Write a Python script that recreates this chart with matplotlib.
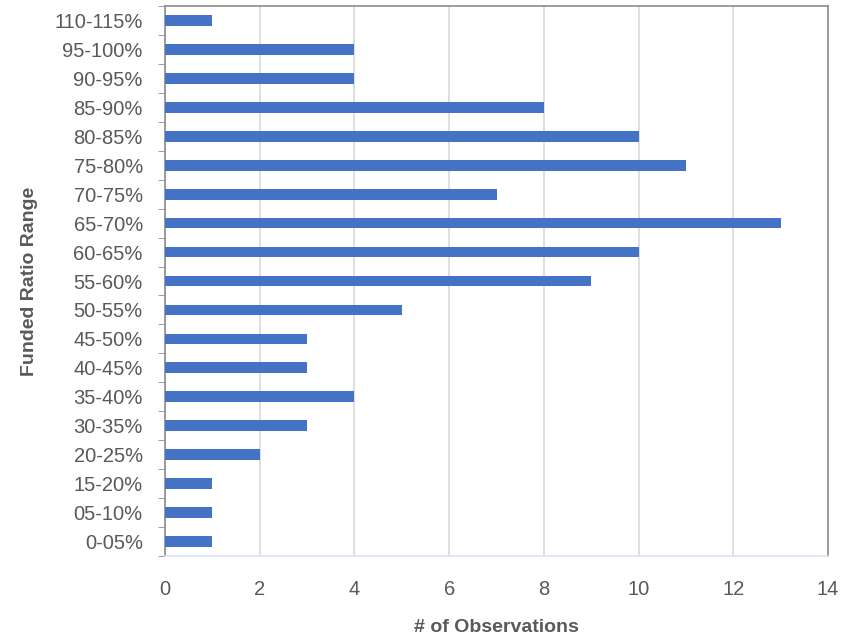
import numpy as np
import matplotlib.pyplot as plt

ranges = ['0-05%', '05-10%', '15-20%', '20-25%', '30-35%', '35-40%', '40-45%',
          '45-50%', '50-55%', '55-60%', '60-65%', '65-70%', '70-75%', '75-80%',
          '80-85%', '85-90%', '90-95%', '95-100%', '110-115%']
counts = [1, 1, 1, 2, 3, 4, 3, 3, 5, 9, 10, 13, 7, 11, 10, 8, 4, 4, 1]

txt = '#595959'
plt.rcParams['font.family'] = ['Liberation Sans', 'DejaVu Sans']

fig = plt.figure(figsize=(8.48, 6.39), dpi=100)
ax = fig.add_axes([165 / 848, 1 - 556 / 639, (828 - 165) / 848, (556 - 6) / 639])

y = np.arange(len(ranges))
ax.barh(y, counts, height=0.37, color='#4472C4', zorder=3)

ax.set_xlim(0, 14)
ax.set_ylim(-0.5, len(ranges) - 0.5)
ax.set_xticks(range(0, 15, 2))
ax.set_yticks(y)
ax.set_yticklabels(ranges)
ax.set_yticks(np.arange(-0.5, len(ranges), 1), minor=True)
ax.tick_params(axis='y', which='major', length=0, pad=16, labelsize=14.5, labelcolor=txt)
ax.tick_params(axis='y', which='minor', length=5, color='#8c8c8c', direction='out')
ax.tick_params(axis='x', length=0, pad=17, labelsize=14.5, labelcolor=txt)

ax.grid(axis='x', color='#d9d9d9', linewidth=1.2, zorder=0)

for side in ['left', 'top', 'right']:
    ax.spines[side].set_color('#8c8c8c')
    ax.spines[side].set_linewidth(1.2)
ax.spines['bottom'].set_color('#dae3f3')
ax.spines['bottom'].set_linewidth(1.2)

ax.set_xlabel('# of Observations', fontsize=14, color=txt, fontweight='bold', labelpad=15)
ax.set_ylabel('Funded Ratio Range', fontsize=14, color=txt, fontweight='bold', labelpad=12)

plt.savefig('out.png', dpi=100)
